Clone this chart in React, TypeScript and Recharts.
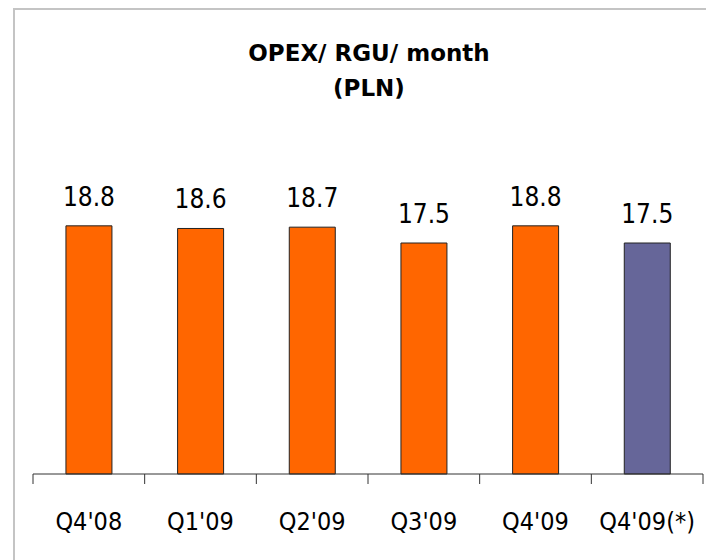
import { BarChart, Bar, XAxis, YAxis, Cell, LabelList } from "recharts";

const quarters = ["Q4'08", "Q1'09", "Q2'09", "Q3'09", "Q4'09", "Q4'09(*)"];
const opexPerRgu = [18.8, 18.6, 18.7, 17.5, 18.8, 17.5];

const ORANGE = "#FF6600";
const PURPLE = "#666699";
const FONT = "'DejaVu Sans Condensed', 'DejaVu Sans', sans-serif";

const data = quarters.map((q, i) => ({ quarter: q, value: opexPerRgu[i] }));

function QuarterTick(props: any) {
  const { x, y, payload, index, visibleTicksCount, width } = props;
  const half = payload?.offset ?? width / visibleTicksCount / 2;
  const last = index === visibleTicksCount - 1;
  return (
    <g>
      <line x1={x - half} x2={x - half} y1={y} y2={y + 10} stroke="#333" strokeWidth={1} />
      {last && <line x1={x + half} x2={x + half} y1={y} y2={y + 10} stroke="#333" strokeWidth={1} />}
      <text x={x} y={y + 56} textAnchor="middle" fontFamily={FONT} fontSize={25} fill="#000">
        {payload.value}
      </text>
    </g>
  );
}

export default function App() {
  return (
    <div
      style={{
        position: "absolute",
        left: 0,
        top: 0,
        width: 706,
        height: 560,
        overflow: "hidden",
        background: "#fff",
      }}
    >
      <div
        style={{
          position: "absolute",
          left: 13,
          top: 8,
          width: 740,
          height: 600,
          border: "2px solid #c4c4c4",
        }}
      />
      <div
        style={{
          position: "absolute",
          left: 169,
          top: 36,
          width: 400,
          textAlign: "center",
          fontFamily: "'DejaVu Sans', sans-serif",
          fontWeight: "bold",
          fontSize: 23,
          lineHeight: "35px",
          color: "#000",
        }}
      >
        OPEX/ RGU/ month
        <br />
        (PLN)
      </div>
      <div style={{ position: "absolute", left: 0, top: 0 }}>
        <BarChart
          width={706}
          height={560}
          data={data}
          margin={{ top: 210, right: 3, bottom: 0, left: 33 }}
          barCategoryGap="29.5%"
        >
          <XAxis
            dataKey="quarter"
            height={86}
            axisLine={{ stroke: "#333", strokeWidth: 1 }}
            tickLine={false}
            tickSize={0}
            tickMargin={0}
            interval={0}
            tick={<QuarterTick />}
          />
          <YAxis hide domain={[0, 20]} width={0} />
          <Bar dataKey="value" stroke="#222" strokeWidth={1} isAnimationActive={false}>
            {data.map((d) => (
              <Cell key={d.quarter} fill={d.quarter.includes("(*)") ? PURPLE : ORANGE} />
            ))}
            <LabelList
              dataKey="value"
              position="top"
              offset={20}
              fill="#000"
              fontSize={26}
              fontFamily={FONT}
              formatter={(v: any) => Number(v).toFixed(1)}
            />
          </Bar>
        </BarChart>
      </div>
    </div>
  );
}
